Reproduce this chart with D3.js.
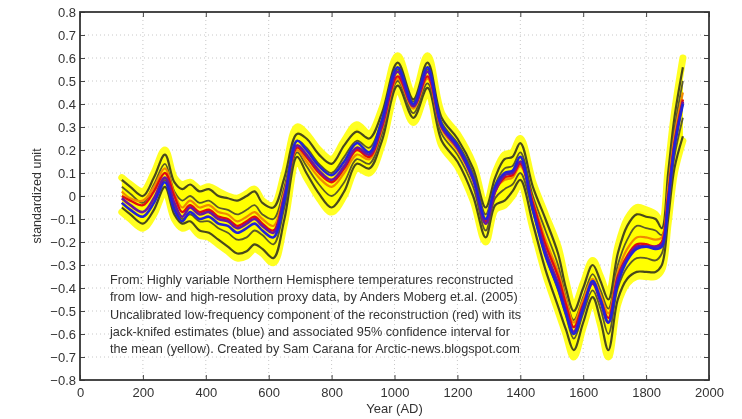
<!DOCTYPE html>
<html>
<head>
<meta charset="utf-8">
<script src="https://cdn.jsdelivr.net/npm/d3@7"></script>
<style>
    html, body { margin: 0; padding: 0; background: #fff; }
    text { font-family: "Liberation Sans", Arial, sans-serif; }
</style>
</head>
<body>
<svg id="chart" width="742" height="419"></svg>
<script>
"use strict";

// sample years shared by every series
var years = [133, 160, 200, 235, 270, 300, 325, 350, 380, 410, 440, 470, 500, 530, 555, 580, 615, 650,
    690, 720, 760, 800, 840, 880, 920, 960, 1010, 1060, 1105, 1150, 1200, 1250, 1290, 1320, 1350, 1375,
    1400, 1440, 1480, 1520, 1545, 1570, 1600, 1630, 1655, 1680, 1710, 1740, 1770, 1800, 1830, 1850,
    1870, 1890, 1917];

// 95% confidence interval for the mean (yellow)
var yellowHi = [0.08, 0.05, 0.02, 0.10, 0.20, 0.08, 0.05, 0.06, 0.03, 0.04, 0.02, 0.00, -0.01, 0.01, 0.03, -0.02, -0.04, 0.10,
    0.30, 0.27, 0.20, 0.16, 0.24, 0.31, 0.27, 0.38, 0.61, 0.44, 0.61, 0.36, 0.27, 0.14, -0.04, 0.10, 0.18, 0.19,
    0.25, 0.06, -0.08, -0.22, -0.37, -0.48, -0.38, -0.28, -0.35, -0.43, -0.22, -0.10, -0.05, -0.06, -0.08, -0.12,
    0.12, 0.36, 0.60];
var yellowLo = [-0.07, -0.10, -0.14, -0.08, 0.02, -0.10, -0.14, -0.13, -0.17, -0.18, -0.21, -0.24, -0.27, -0.26, -0.23, -0.25, -0.29, -0.12,
    0.15, 0.08, -0.01, -0.07, 0.00, 0.12, 0.10, 0.22, 0.46, 0.32, 0.45, 0.22, 0.13, -0.02, -0.20, -0.06, -0.04, 0.00,
    0.05, -0.14, -0.34, -0.50, -0.60, -0.70, -0.57, -0.46, -0.56, -0.70, -0.47, -0.38, -0.35, -0.35, -0.35, -0.32,
    -0.12, 0.10, 0.24];

// dark outlined members of the ensemble
var darkHi = [0.07, 0.04, 0.00, 0.08, 0.18, 0.06, 0.03, 0.05, 0.02, 0.03, 0.00, -0.01, -0.02, 0.00, 0.02, -0.03, -0.05, 0.08,
    0.27, 0.25, 0.18, 0.14, 0.22, 0.28, 0.25, 0.36, 0.58, 0.42, 0.58, 0.34, 0.25, 0.12, -0.05, 0.08, 0.16, 0.17,
    0.23, 0.04, -0.10, -0.25, -0.40, -0.50, -0.40, -0.30, -0.37, -0.45, -0.25, -0.13, -0.08, -0.09, -0.10, -0.14,
    0.10, 0.34, 0.56];
var darkMid = [0.04, 0.01, -0.03, 0.05, 0.14, 0.02, -0.02, 0.00, -0.03, -0.02, -0.05, -0.06, -0.08, -0.06, -0.04, -0.08, -0.10, 0.04,
    0.24, 0.21, 0.14, 0.10, 0.17, 0.24, 0.21, 0.33, 0.55, 0.41, 0.55, 0.32, 0.23, 0.10, -0.08, 0.05, 0.12, 0.13,
    0.19, 0.00, -0.15, -0.30, -0.44, -0.54, -0.44, -0.34, -0.41, -0.49, -0.30, -0.19, -0.13, -0.14, -0.15, -0.17,
    0.06, 0.29, 0.50];
var darkMid2 = [-0.03, -0.06, -0.09, -0.03, 0.07, -0.05, -0.10, -0.08, -0.11, -0.11, -0.14, -0.16, -0.19, -0.18, -0.15, -0.17, -0.21, -0.05,
    0.19, 0.13, 0.05, 0.00, 0.06, 0.16, 0.14, 0.27, 0.50, 0.36, 0.49, 0.27, 0.18, 0.04, -0.15, -0.01, 0.03, 0.05,
    0.10, -0.07, -0.26, -0.41, -0.52, -0.62, -0.51, -0.41, -0.49, -0.60, -0.40, -0.31, -0.27, -0.27, -0.28, -0.25,
    -0.06, 0.17, 0.34];
var darkLo = [-0.05, -0.08, -0.12, -0.06, 0.04, -0.08, -0.12, -0.11, -0.15, -0.16, -0.19, -0.22, -0.25, -0.24, -0.21, -0.23, -0.27, -0.10,
    0.17, 0.10, 0.01, -0.05, 0.02, 0.14, 0.12, 0.24, 0.48, 0.34, 0.47, 0.24, 0.15, 0.00, -0.18, -0.04, -0.02, 0.02,
    0.07, -0.12, -0.32, -0.48, -0.58, -0.67, -0.55, -0.44, -0.54, -0.67, -0.45, -0.36, -0.33, -0.33, -0.33, -0.30,
    -0.10, 0.12, 0.26];

var orange = [0.02, -0.01, -0.02, 0.04, 0.12, 0.01, -0.05, -0.02, -0.05, -0.04, -0.07, -0.08, -0.11, -0.09, -0.07, -0.10, -0.13, 0.02,
    0.20, 0.15, 0.08, 0.04, 0.10, 0.18, 0.16, 0.29, 0.51, 0.38, 0.51, 0.29, 0.20, 0.07, -0.10, 0.03, 0.07, 0.08,
    0.13, -0.02, -0.19, -0.33, -0.45, -0.55, -0.45, -0.36, -0.43, -0.51, -0.33, -0.23, -0.18, -0.18, -0.19, -0.18,
    0.03, 0.26, 0.45];

// reconstruction (red)
var mean = [0.00, -0.02, -0.04, 0.02, 0.10, 0.00, -0.07, -0.04, -0.07, -0.06, -0.09, -0.10, -0.13, -0.11, -0.09, -0.12, -0.15, 0.00,
    0.21, 0.17, 0.10, 0.06, 0.12, 0.20, 0.17, 0.30, 0.52, 0.39, 0.52, 0.30, 0.21, 0.08, -0.11, 0.02, 0.08, 0.09,
    0.14, -0.03, -0.21, -0.35, -0.47, -0.57, -0.47, -0.38, -0.45, -0.53, -0.35, -0.26, -0.21, -0.21, -0.22, -0.20,
    0.00, 0.23, 0.42];

// jack-knifed estimates (blue / purple)
var jackA = [-0.03, -0.06, -0.09, -0.03, 0.06, -0.06, -0.11, -0.07, -0.10, -0.09, -0.12, -0.13, -0.16, -0.14, -0.12, -0.15, -0.18, -0.02,
    0.24, 0.20, 0.13, 0.09, 0.15, 0.23, 0.19, 0.33, 0.56, 0.40, 0.56, 0.31, 0.22, 0.08, -0.10, 0.04, 0.10, 0.11,
    0.17, -0.06, -0.26, -0.40, -0.51, -0.60, -0.49, -0.37, -0.45, -0.55, -0.38, -0.28, -0.23, -0.22, -0.23, -0.22,
    -0.03, 0.21, 0.40];
var jackB = [-0.01, -0.04, -0.07, -0.01, 0.08, -0.03, -0.09, -0.05, -0.08, -0.07, -0.10, -0.11, -0.14, -0.12, -0.10, -0.13, -0.16, 0.00,
    0.22, 0.18, 0.11, 0.07, 0.13, 0.21, 0.18, 0.31, 0.54, 0.39, 0.54, 0.30, 0.21, 0.07, -0.12, 0.02, 0.09, 0.10,
    0.15, -0.05, -0.24, -0.38, -0.50, -0.59, -0.48, -0.38, -0.46, -0.55, -0.36, -0.27, -0.22, -0.22, -0.22, -0.21,
    -0.02, 0.22, 0.41];

var xTicks = [0, 200, 400, 600, 800, 1000, 1200, 1400, 1600, 1800, 2000];
var yTicks = [-0.8, -0.7, -0.6, -0.5, -0.4, -0.3, -0.2, -0.1, 0, 0.1, 0.2, 0.3, 0.4, 0.5, 0.6, 0.7, 0.8];

var note = [
    "From: Highly variable Northern Hemisphere temperatures reconstructed",
    "from low- and high-resolution proxy data, by Anders Moberg et.al. (2005)",
    "Uncalibrated low-frequency component of the reconstruction (red) with its",
    "jack-knifed estimates (blue) and associated 95% confidence interval for",
    "the mean (yellow). Created by Sam Carana for Arctic-news.blogspot.com"
];

var margin = { left: 80, top: 12, right: 33, bottom: 39 },
    W = 742, H = 419,
    pw = W - margin.left - margin.right,
    ph = H - margin.top - margin.bottom;

var svg = d3.select("#chart");

svg.append("defs").append("filter")
    .attr("id", "soft")
    .append("feGaussianBlur")
    .attr("stdDeviation", 0.6);

var root = svg.append("g").attr("filter", "url(#soft)");
var g = root.append("g").attr("transform", "translate(" + margin.left + "," + margin.top + ")");

var x = d3.scaleLinear().domain([0, 2000]).range([0, pw]),
    y = d3.scaleLinear().domain([-0.8, 0.8]).range([ph, 0]);

// dotted grid
g.append("g").selectAll("line").data(xTicks.slice(1, -1)).enter().append("line")
    .attr("x1", function (d) { return x(d); })
    .attr("x2", function (d) { return x(d); })
    .attr("y1", 0).attr("y2", ph)
    .style("stroke", "#c8c8c8").style("stroke-dasharray", "1,3");
g.append("g").selectAll("line").data(yTicks.slice(1, -1)).enter().append("line")
    .attr("y1", function (d) { return y(d); })
    .attr("y2", function (d) { return y(d); })
    .attr("x1", 0).attr("x2", pw)
    .style("stroke", "#c8c8c8").style("stroke-dasharray", "1,3");

var line = function (vals) {
    return d3.line()
        .x(function (d, i) { return x(years[i]); })
        .y(function (d) { return y(d); })
        .curve(d3.curveCatmullRom.alpha(0.5))(vals);
};
var band = d3.area()
    .x(function (d, i) { return x(years[i]); })
    .y0(function (d, i) { return y(yellowLo[i]); })
    .y1(function (d) { return y(d); })
    .curve(d3.curveCatmullRom.alpha(0.5));

var plot = g.append("g");

plot.append("path").attr("d", band(yellowHi))
    .style("fill", "#ffff00");
[yellowHi, yellowLo].forEach(function (s) {
    plot.append("path").attr("d", line(s))
        .style("fill", "none").style("stroke", "#ffff20").style("stroke-width", 7)
        .style("stroke-linejoin", "round").style("stroke-linecap", "round");
});

var series = [
    { v: darkHi, c: "#4a4a1c", w: 2.2 },
    { v: darkLo, c: "#4a4a1c", w: 2.2 },
    { v: darkMid2, c: "#5c5a2a", w: 1.8 },
    { v: darkMid, c: "#5c5a2a", w: 1.8 },
    { v: orange, c: "#f08a00", w: 2.2 },
    { v: mean, c: "#e01010", w: 2.4 },
    { v: jackB, c: "#6a14a0", w: 2.6 },
    { v: jackA, c: "#2424d8", w: 2.6 }
];

plot.selectAll("path.member").data(series).enter().append("path")
    .attr("class", "member")
    .attr("d", function (d) { return line(d.v); })
    .style("fill", "none")
    .style("stroke", function (d) { return d.c; })
    .style("stroke-width", function (d) { return d.w; })
    .style("stroke-linejoin", "round");

// axes with inward ticks on all four sides
var tick = 5;
g.append("g").attr("transform", "translate(0," + ph + ")")
    .call(d3.axisBottom(x).tickValues(xTicks).tickSize(-tick).tickPadding(8).tickFormat(d3.format("d")));
g.append("g")
    .call(d3.axisTop(x).tickValues(xTicks).tickSize(-tick).tickFormat(""));
g.append("g")
    .call(d3.axisLeft(y).tickValues(yTicks).tickSize(-tick).tickPadding(4).tickFormat(function (d) { return d === 0 ? "0" : d3.format(".1f")(d).replace("-", "\u2212"); }));
g.append("g").attr("transform", "translate(" + pw + ",0)")
    .call(d3.axisRight(y).tickValues(yTicks).tickSize(-tick).tickFormat(""));

g.selectAll(".domain").remove();
g.selectAll(".tick line").style("stroke", "#444").style("stroke-width", 1);
g.selectAll(".tick text").style("font-size", "13px").style("fill", "#333")
    .style("font-family", "'Liberation Sans', Arial, sans-serif");

g.append("rect").attr("width", pw).attr("height", ph)
    .style("fill", "none").style("stroke", "#333").style("stroke-width", 1.8);

g.append("text")
    .attr("x", pw / 2).attr("y", ph + 33)
    .attr("text-anchor", "middle")
    .style("font-size", "13px").style("fill", "#333")
    .text("Year (AD)");

root.append("text")
    .attr("transform", "translate(41," + (margin.top + ph / 2) + ") rotate(-90)")
    .attr("text-anchor", "middle")
    .style("font-size", "12.5px").style("fill", "#333")
    .text("standardized unit");

root.append("g").selectAll("text").data(note).enter().append("text")
    .attr("x", 110)
    .attr("y", function (d, i) { return 284 + i * 17.3; })
    .style("font-size", "12.7px").style("fill", "#333")
    .text(function (d) { return d; });
</script>
</body>
</html>
